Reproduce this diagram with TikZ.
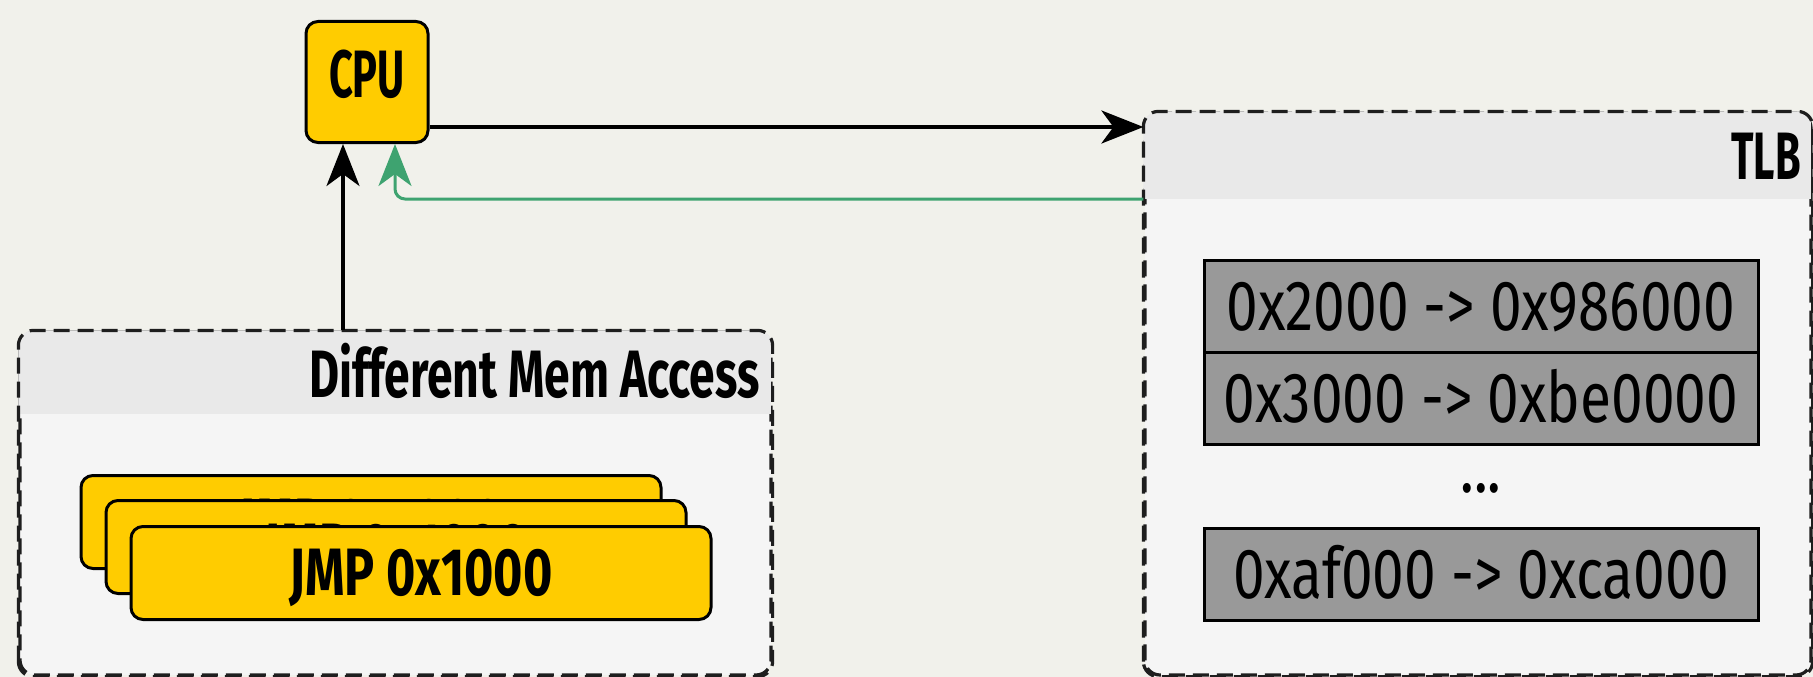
\documentclass[tikz,border=0pt]{standalone}
\usepackage{fontspec}
\setmainfont{Fira Sans}
\newfontfamily\chipfont{Fira Sans}[FakeStretch=0.62]
\newfontfamily\titlefont{Fira Sans}[FakeStretch=0.69]
\newfontfamily\jmpfont{Fira Sans}[FakeStretch=0.75]
\newfontfamily\entryfont{Fira Sans}[FakeStretch=0.8]
\usetikzlibrary{arrows.meta}
\definecolor{bgcol}{RGB}{241,241,235}
\definecolor{bodycol}{RGB}{245,245,245}
\definecolor{headcol}{RGB}{233,233,233}
\definecolor{cpuyellow}{RGB}{255,204,0}
\definecolor{entrygray}{RGB}{153,153,153}
\definecolor{backgreen}{RGB}{62,163,112}
\definecolor{framegray}{RGB}{30,30,30}
\tikzset{
  chip/.style={draw=black, line width=3pt, fill=cpuyellow, rounded corners=12pt,
    inner sep=0pt, text height=46pt},
  group/.style={draw=framegray, line width=3.2pt, dash pattern=on 16pt off 8pt,
    rounded corners=15pt, fill=bodycol, inner sep=0pt},
  groupframe/.style={draw=framegray, line width=3.2pt, dash pattern=on 16pt off 8pt,
    rounded corners=15pt},
  grouptitle/.style={inner sep=0pt, anchor=base east,
    font=\titlefont\bfseries\fontsize{67}{70}\selectfont},
  jmpbox/.style={chip, minimum width=580pt, minimum height=93pt,
    font=\jmpfont\bfseries\fontsize{67}{70}\selectfont},
  entry/.style={draw=black, line width=3pt, fill=entrygray, inner sep=0pt,
    minimum width=554pt, minimum height=92pt, text height=49pt, text depth=0pt,
    font=\entryfont\fontsize{71}{74}\selectfont},
  wire/.style={line width=3.5pt, -{Stealth[length=42pt, width=33pt, inset=12pt]}},
}
\begin{document}
\begin{tikzpicture}[x=1pt, y=-1pt]
  \useasboundingbox[fill=bgcol] (0,0) rectangle (1813,677);

  % processor
  \node[chip, minimum width=122pt, minimum height=121pt, text depth=14pt,
    font=\chipfont\bfseries\fontsize{67}{70}\selectfont] (cpu) at (367,82) {CPU};

  % group holding the stacked instructions
  \node[group, minimum width=751pt, minimum height=343pt] (dma) at (395.5,503.5) {};
  \begin{scope}
    \clip[rounded corners=15pt] (dma.south west) rectangle (dma.north east);
    \fill[headcol] (dma.north west) rectangle (771,414);
  \end{scope}
  \draw[groupframe] (dma.south west) rectangle (dma.north east);
  \node[grouptitle] (dmatitle) at (760,397) {Different Mem Access};

  \node[jmpbox, text depth=0pt] (jmpa) at (371,522) {JMP 0x1000};
  \node[jmpbox, text depth=0pt] (jmpb) at (396,547) {JMP 0x1000};
  \node[jmpbox, text depth=2pt] (jmpc) at (421,573) {JMP 0x1000};

  % translation buffer
  \node[group, minimum width=666pt, minimum height=562pt] (tlb) at (1478,394) {};
  \begin{scope}
    \clip[rounded corners=15pt] (tlb.south west) rectangle (tlb.north east);
    \fill[headcol] (tlb.north west) rectangle (1811,199);
  \end{scope}
  \draw[groupframe] (tlb.south west) rectangle (tlb.north east);
  \node[grouptitle, font=\chipfont\bfseries\fontsize{67}{70}\selectfont] (tlbtitle) at (1801,179) {TLB};

  \node[entry] (e1) at (1481,306) {0x2000 -> 0x986000};
  \node[entry] (e2) at (1481,398) {0x3000 -> 0xbe0000};
  \node[inner sep=0pt, anchor=base, font=\entryfont\fontsize{71}{74}\selectfont] (dots) at (1481,492) {...};
  \node[entry] (e3) at (1481,574) {0xaf000 -> 0xca000};

  % connectors
  \coordinate (lvlreq) at (0,127);
  \coordinate (lvlret) at (0,199);
  \coordinate (colup) at (343,0);
  \coordinate (colret) at (395,0);
  \draw[wire] (cpu.east |- lvlreq) -- (tlb.west |- lvlreq);
  \draw[wire] (dma.north -| colup) -- (cpu.south -| colup);
  \draw[wire, draw=backgreen, line width=3pt, rounded corners=10pt]
    (tlb.west |- lvlret) -- (colret |- lvlret) -- (cpu.south -| colret);
\end{tikzpicture}
\end{document}
